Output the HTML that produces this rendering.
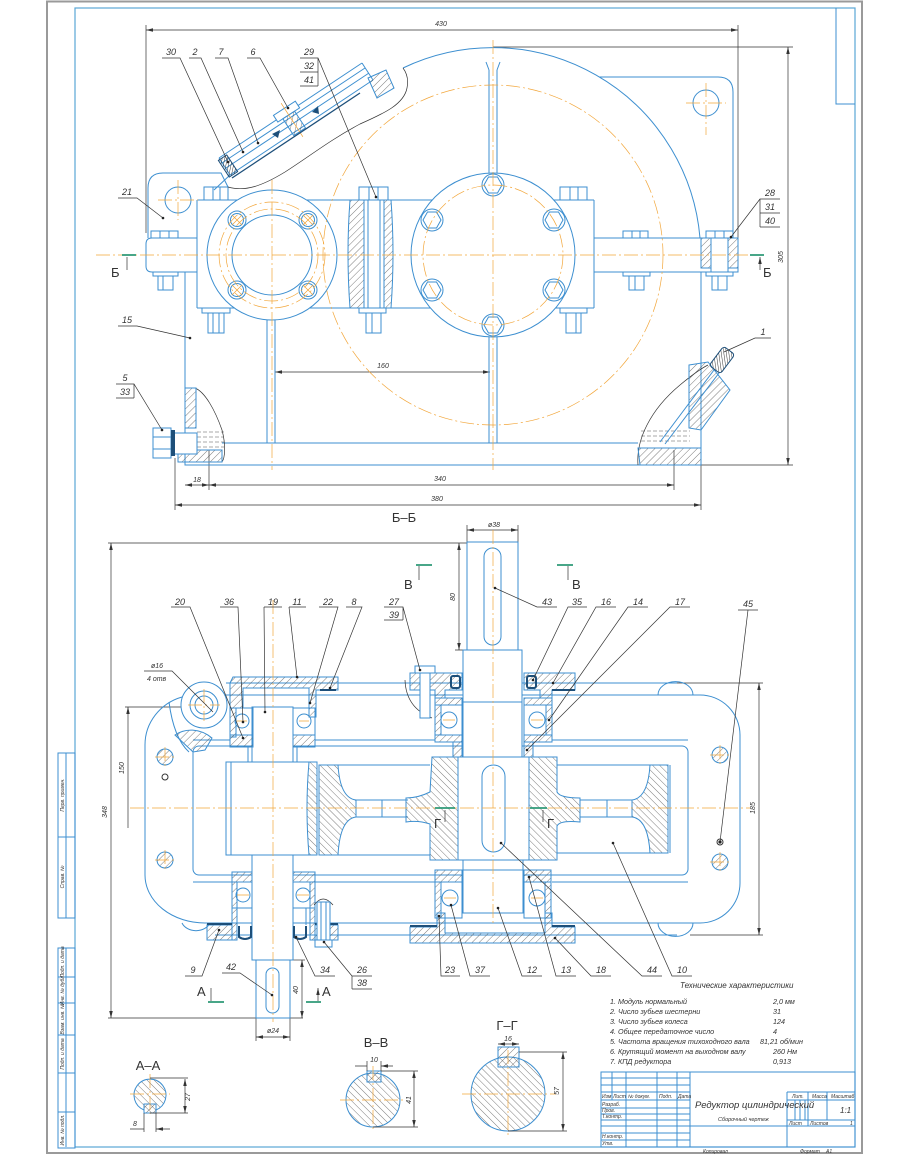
<!DOCTYPE html>
<html><head><meta charset="utf-8">
<style>
html,body{margin:0;padding:0;background:#fff}
svg{display:block}
.b{stroke:#3d8fd0;fill:none;stroke-width:1}
.bf{stroke:#3d8fd0;fill:#fff;stroke-width:1}
.k{stroke:#333;fill:none;stroke-width:.7}
.o{stroke:#f2a63a;fill:none;stroke-width:.7;stroke-dasharray:14 3 2 3}
.h{fill:url(#h1);stroke:#3d8fd0;stroke-width:1}
.h2{fill:url(#h2);stroke:#3d8fd0;stroke-width:1}
.g{stroke:#2f9a78;stroke-width:1.8;fill:none}
.sl{stroke:#1d4f7a;stroke-width:2;fill:none}
text{font-family:"Liberation Sans",sans-serif;font-style:italic;fill:#333}
.t{font-size:9px}
.s{font-size:7px}
.xs{font-size:5px}
.n{font-style:normal;font-size:13px}
</style></head><body>
<svg width="910" height="1155" viewBox="0 0 910 1155" xmlns="http://www.w3.org/2000/svg">
<defs>
<pattern id="h1" width="5" height="5" patternUnits="userSpaceOnUse" patternTransform="rotate(45)"><line x1="0" y1="0" x2="0" y2="5" stroke="#444" stroke-width=".7"/></pattern>
<pattern id="h2" width="5" height="5" patternUnits="userSpaceOnUse" patternTransform="rotate(-45)"><line x1="0" y1="0" x2="0" y2="5" stroke="#444" stroke-width=".7"/></pattern>
<pattern id="h3" width="2.5" height="2.5" patternUnits="userSpaceOnUse" patternTransform="rotate(45)"><line x1="0" y1="0" x2="0" y2="2.5" stroke="#222" stroke-width=".9"/></pattern>
<marker id="a" viewBox="0 0 10 10" refX="10" refY="5" markerWidth="7" markerHeight="7" markerUnits="userSpaceOnUse" orient="auto-start-reverse"><path d="M0,2.5L10,5L0,7.5z" fill="#333"/></marker>
</defs>

<!-- FRAME -->
<rect x="47" y="1.5" width="815" height="1151.5" fill="none" stroke="#9a9a9a" stroke-width="2"/>
<rect x="75" y="8" width="780" height="1139" fill="none" stroke="#5aa6d6" stroke-width="1.2"/>
<path d="M836,8V104H855" class="b"/>
<g class="b" stroke-width=".8">
<rect x="58" y="753" width="17" height="165"/>
<path d="M66,753V918M58,837H75"/>
<rect x="58" y="948" width="17" height="200"/>
<path d="M66,948V1147M58,977H75M58,1003H75M58,1035H75M58,1073H75M58,1112H75"/>
</g>
<g class="xs">
<text transform="translate(64,795) rotate(-90)" text-anchor="middle">Перв. примен.</text>
<text transform="translate(64,877) rotate(-90)" text-anchor="middle">Справ. №</text>
<text transform="translate(64,962) rotate(-90)" text-anchor="middle">Подп. и дата</text>
<text transform="translate(64,990) rotate(-90)" text-anchor="middle">Инв. № дубл.</text>
<text transform="translate(64,1019) rotate(-90)" text-anchor="middle">Взам. инв. №</text>
<text transform="translate(64,1054) rotate(-90)" text-anchor="middle">Подп. и дата</text>
<text transform="translate(64,1130) rotate(-90)" text-anchor="middle">Инв. № подл.</text>
</g>

<!-- ===== TOP VIEW ===== -->
<g class="k">
<path d="M146,25V233M738,25V238"/>
<path d="M146,30H738" marker-start="url(#a)" marker-end="url(#a)"/>
<path d="M493,47H793M701,465H793"/>
<path d="M788,47V465" marker-start="url(#a)" marker-end="url(#a)"/>
<path d="M275,372H490" marker-start="url(#a)" marker-end="url(#a)"/>
<path d="M175,458V510M701,465V510M209,450V490M674,450V490"/>
<path d="M185,485H209" marker-start="url(#a)" marker-end="url(#a)"/>
<path d="M209,485H674" marker-start="url(#a)" marker-end="url(#a)"/>
<path d="M175,505H701" marker-start="url(#a)" marker-end="url(#a)"/>
</g>
<g class="s">
<text x="441" y="26" text-anchor="middle">430</text>
<text x="383" y="368" text-anchor="middle">160</text>
<text x="197" y="482" text-anchor="middle">18</text>
<text x="440" y="481" text-anchor="middle">340</text>
<text x="437" y="501" text-anchor="middle">380</text>
<text transform="translate(783,257) rotate(-90)" text-anchor="middle">305</text>
</g>

<g class="b">
<path d="M403,68A208,208 0 0 1 700,238"/>
<path d="M599,77H718Q733,77 733,92V238"/>
<path d="M148,238V188Q148,173 163,173H221L228,187"/>
<path d="M197,200H594M197,308H594M197,200V308M594,200V308"/>
<path d="M197,238H152Q146,238 146,244V266Q146,272 152,272H197"/>
<path d="M594,238H738V272H594"/>
<path d="M185,272V465H701V272"/>
<path d="M222,443H638"/>
<path d="M267,320V443M275,320V443M489,337V443M497,337V443"/>
<path d="M489,70V173M497,70V173M486,62L489,70M500,62L497,70"/>
<circle cx="178" cy="200" r="13"/>
<circle cx="706" cy="103" r="13"/>
</g>
<!-- bosses -->
<circle cx="272" cy="255" r="65" class="bf"/>
<circle cx="272" cy="255" r="40" class="b"/>
<circle cx="493" cy="255" r="82" class="bf"/>
<g class="b">
<circle cx="237" cy="220" r="9"/><circle cx="237" cy="220" r="6.5"/>
<circle cx="308" cy="220" r="9"/><circle cx="308" cy="220" r="6.5"/>
<circle cx="237" cy="290" r="9"/><circle cx="237" cy="290" r="6.5"/>
<circle cx="308" cy="290" r="9"/><circle cx="308" cy="290" r="6.5"/>
<circle cx="493" cy="185" r="11"/><circle cx="493" cy="325" r="11"/>
<circle cx="432" cy="220" r="11"/><circle cx="554" cy="220" r="11"/>
<circle cx="432" cy="290" r="11"/><circle cx="554" cy="290" r="11"/>
<path d="M484,185l4.5,-8h9l4.5,8l-4.5,8h-9zM484,325l4.5,-8h9l4.5,8l-4.5,8h-9zM423,220l4.5,-8h9l4.5,8l-4.5,8h-9zM545,220l4.5,-8h9l4.5,8l-4.5,8h-9zM423,290l4.5,-8h9l4.5,8l-4.5,8h-9zM545,290l4.5,-8h9l4.5,8l-4.5,8h-9z"/>
</g>
<g stroke="#f0a030" stroke-width=".7">
<path d="M232,215l10,10M242,215l-10,10M303,215l10,10M313,215l-10,10M232,285l10,10M242,285l-10,10M303,285l10,10M313,285l-10,10"/>
</g>
<!-- section 29 -->
<path class="h" d="M350,200H364V308H350Q346,254 350,200Z"/>
<path class="h" d="M384,200H391Q395,254 391,308H384Z"/>
<rect class="bf" x="364" y="200" width="20" height="108"/>
<path class="b" d="M368,200V308M380,200V308"/>
<!-- section 28 -->
<rect class="h" x="701" y="238" width="37" height="30"/>
<rect class="bf" x="711" y="238" width="17" height="34"/>
<!-- bolt heads / nuts -->
<g class="bf">
<rect x="359" y="187" width="29" height="13"/><rect x="359" y="308" width="27" height="5"/><rect x="366" y="313" width="15" height="20"/>
<rect x="204" y="187" width="24" height="13"/><rect x="560" y="187" width="27" height="13"/>
<rect x="202" y="308" width="28" height="5"/><rect x="208" y="313" width="16" height="20"/>
<rect x="560" y="308" width="27" height="5"/><rect x="566" y="313" width="15" height="20"/>
<rect x="151" y="231" width="27" height="7"/><rect x="153" y="272" width="25" height="4"/><rect x="158" y="276" width="15" height="14"/>
<rect x="623" y="231" width="25" height="7"/><rect x="623" y="272" width="27" height="4"/><rect x="629" y="276" width="15" height="14"/>
<rect x="706" y="231" width="27" height="7"/><rect x="706" y="272" width="27" height="4"/><rect x="712" y="276" width="15" height="14"/>
</g>
<g class="b" stroke-width=".7">
<path d="M213,187V200M220,187V200M369,187V200M378,187V200M570,187V200M578,187V200M213,313V333M219,313V333M372,313V333M576,313V333M160,231V238M169,231V238M632,231V238M640,231V238M715,231V238M724,231V238M163,276V290M635,276V290M718,276V290"/>
</g>
<!-- inspection hatch -->
<path class="k" d="M228,187C245,192 262,186 285,172C310,156 330,140 360,124C385,113 404,104 407,88C409,78 406,72 403,68"/>
<g class="b">
<path d="M219,158L362,63M222,163L365,68M226,168L369,73M230,175L373,80M219,158L230,175M362,63L373,80"/>
<path d="M214,190L230,175"/>
</g>
<path class="h" d="M368,78L386,70L394,88L377,98Z"/>
<g transform="translate(292,120) rotate(-33)">
<rect x="-13" y="-14" width="26" height="8" class="bf"/>
<rect x="-7" y="-6" width="14" height="20" class="h"/>
<path d="M0,-20V20" stroke="#f0a030" stroke-width=".7"/>
</g>
<g transform="translate(228,166) rotate(-33)">
<rect x="-5" y="-10" width="10" height="20" fill="url(#h3)" stroke="#1d4f7a" stroke-width="1"/>
</g>
<path d="M272,134l8,-4l-2,8z M312,112l6,-6l1,8z" fill="#1d4f7a"/>
<path d="M232,178L360,93" stroke="#1d4f7a" stroke-width="1.3"/>
<!-- drain left -->
<path class="k" d="M195,388C205,392 215,410 222,430C226,445 225,458 222,462"/>
<path class="h" d="M185,388H196V428H185Z"/>
<path class="h" d="M178,450H222V462H178Z"/>
<g stroke="#555" stroke-width=".6" stroke-dasharray="4 2"><path d="M197,432H224M197,437H224M197,442H224M197,447H224"/></g>
<rect class="bf" x="153" y="428" width="18" height="30"/>
<rect class="bf" x="171" y="433" width="26" height="21"/>
<rect x="171" y="430" width="4" height="26" fill="#1d4f7a"/>
<path class="b" d="M153,437H171M153,449H171"/>
<!-- right oil gauge -->
<path class="k" d="M638,465C636,440 650,410 680,385C692,375 702,368 708,365"/>
<path class="h" d="M689,365L708,362L730,390L701,430L689,428Z"/>
<path class="h" d="M638,448H701V465H640Z"/>
<g stroke="#555" stroke-width=".6" stroke-dasharray="4 2"><path d="M641,431H690M641,436H690M641,441H690"/></g>
<path class="b" d="M660,442L714,370M665,444L719,373"/>
<g transform="translate(722,360) rotate(-53)"><rect x="-12" y="-7" width="24" height="14" rx="3" fill="url(#h3)" stroke="#1d4f7a"/></g>
<!-- top view center lines -->
<g class="o">
<path d="M96,255H762"/>
<path d="M272,180V470"/>
<path d="M493,40V470"/>
<path d="M158,200H198M178,180V220M686,103H726M706,83V135"/>
<circle cx="272" cy="255" r="46"/>
<circle cx="272" cy="255" r="53"/>
<circle cx="493" cy="255" r="70"/>
<circle cx="493" cy="255" r="170"/>
</g>
<!-- Б markers -->
<path class="g" d="M122,255H136M750,255H764"/>
<path class="k" d="M127,270V257M760,270V257" marker-end="url(#a)"/>
<text x="111" y="277" class="n">Б</text>
<text x="763" y="277" class="n">Б</text>
<!-- top view labels -->
<g class="t">
<text x="171" y="55" text-anchor="middle">30</text>
<text x="195" y="55" text-anchor="middle">2</text>
<text x="221" y="55" text-anchor="middle">7</text>
<text x="253" y="55" text-anchor="middle">6</text>
<text x="309" y="55" text-anchor="middle">29</text>
<text x="309" y="69" text-anchor="middle">32</text>
<text x="309" y="83" text-anchor="middle">41</text>
<text x="127" y="195" text-anchor="middle">21</text>
<text x="770" y="196" text-anchor="middle">28</text>
<text x="770" y="210" text-anchor="middle">31</text>
<text x="770" y="224" text-anchor="middle">40</text>
<text x="127" y="323" text-anchor="middle">15</text>
<text x="125" y="381" text-anchor="middle">5</text>
<text x="125" y="395" text-anchor="middle">33</text>
<text x="763" y="335" text-anchor="middle">1</text>
</g>
<g class="k">
<path d="M162,58H180L228,162M189,58H201L243,152M215,58H228L258,143M247,58H260L288,108"/>
<path d="M300,58H318L376,197M300,72H318M300,86H318M318,58V86"/>
<path d="M118,198H137L163,218"/>
<path d="M780,199H760L731,237M760,213H780M760,227H780M760,199V227"/>
<path d="M118,326H137L190,338"/>
<path d="M116,384H134L162,430M116,398H134M134,384V398"/>
<path d="M771,338H755L724,352"/>
</g>

<text x="404" y="522" class="n" text-anchor="middle">Б–Б</text>

<!-- ===== BOTTOM VIEW ===== -->
<!-- dims -->
<g class="k">
<path d="M467,525V542M518,525V542"/>
<path d="M467,530H518" marker-start="url(#a)" marker-end="url(#a)"/>
<path d="M108,543H467M108,1018H303M455,650H463"/>
<path d="M111,543V1018" marker-start="url(#a)" marker-end="url(#a)"/>
<path d="M459,543V650" marker-start="url(#a)" marker-end="url(#a)"/>
<path d="M125,707H204"/>
<path d="M128,707V828" marker-start="url(#a)"/>
<path d="M677,683H763M690,935H763"/>
<path d="M759,683V935" marker-start="url(#a)" marker-end="url(#a)"/>
<path d="M458,825H529" marker-start="url(#a)" marker-end="url(#a)"/>
<path d="M464,892H523" marker-start="url(#a)" marker-end="url(#a)"/>
<path d="M253,898H293" marker-start="url(#a)" marker-end="url(#a)"/>
<path d="M293,960H305"/>
<path d="M302,960V1018" marker-start="url(#a)" marker-end="url(#a)"/>
<path d="M256,1018V1041M290,1018V1041"/>
<path d="M256,1037H290" marker-start="url(#a)" marker-end="url(#a)"/>
</g>
<g class="s">
<text x="494" y="527" text-anchor="middle">ø38</text>
<text transform="translate(455,597) rotate(-90)" text-anchor="middle">80</text>
<text transform="translate(107,812) rotate(-90)" text-anchor="middle">348</text>
<text transform="translate(124,768) rotate(-90)" text-anchor="middle">150</text>
<text transform="translate(755,808) rotate(-90)" text-anchor="middle">185</text>
<text x="511" y="821" text-anchor="middle">ø53</text>
<text x="494" y="888" text-anchor="middle">ø45</text>
<text x="273" y="894" text-anchor="middle">ø30</text>
<text transform="translate(298,990) rotate(-90)" text-anchor="middle">40</text>
<text x="273" y="1033" text-anchor="middle">ø24</text>
</g>

<!-- housing outline -->
<g class="b">
<path d="M226,683H677M215,935H677"/>
<path d="M226,695H700A40,40 0 0 1 740,735V883A40,40 0 0 1 700,923H205A60,48 0 0 1 145,875V745A52,50 0 0 1 182,697"/>
<path d="M658,695A17,13 0 0 1 693,695M658,923A17,13 0 0 0 693,923M182,923A15,12 0 0 0 210,923"/>
<circle cx="204" cy="705" r="23" class="bf"/>
<circle cx="204" cy="705" r="14"/>
<circle cx="204" cy="705" r="9"/>
<path d="M169,702C172,725 178,742 189,752"/>
<rect x="193" y="746" width="495" height="129" rx="6"/>
<path d="M336,695H410M575,695H658M193,740H230M315,740H435M552,740H688"/>
<path d="M193,882H232M315,882H435M552,882H688"/>
</g>
<path class="h" d="M175,735C185,728 200,728 212,738L205,750L193,752Z"/>
<!-- bolt holes -->
<g class="h">
<circle cx="165" cy="757" r="8"/><circle cx="165" cy="860" r="8"/>
<circle cx="720" cy="755" r="8"/><circle cx="720" cy="862" r="8"/>
</g>
<circle cx="165" cy="777" r="3" fill="none" stroke="#333"/>
<circle cx="720" cy="842" r="3" fill="none" stroke="#333"/>

<!-- pinion top -->
<path class="h" d="M233,677H338V690H316V717H309V688H243V708H236V737H230V683Z"/>
<rect class="bf" x="252" y="707" width="41" height="55"/>
<path class="b" d="M248,747V762M297,747V762M248,747H252M293,747H297"/>
<rect class="b" x="230" y="708" width="23" height="39"/>
<rect class="b" x="293" y="708" width="22" height="39"/>
<rect class="h" x="230" y="735" width="23" height="12"/>
<rect class="h" x="293" y="735" width="22" height="12"/>
<circle class="b" cx="242" cy="721" r="7"/>
<circle class="b" cx="304" cy="721" r="7"/>
<!-- pinion gear -->
<rect class="bf" x="226" y="762" width="91" height="93"/>
<path class="h2" d="M309,762H317V855H309Q305,808 309,762Z"/>
<path class="b" d="M231,762V855"/>
<!-- wheel -->
<path class="h2" d="M319,765H338Q340,798 356,800V817Q340,819 338,855H319Z"/>
<path class="h2" d="M668,765H650Q648,798 632,800V817Q648,819 650,853H668Z"/>
<path class="b" d="M670,765V853M336,765H430M336,855H430M557,765H650M557,853H650M356,800H408M356,817H408M580,800H632M580,817H632M382,800V817M607,800V817"/>
<path class="h2" d="M432,757H458V860H430V824Q418,820 406,822V798Q418,798 430,792Z"/>
<path class="h2" d="M529,757H557V792Q560,798 580,798V822Q560,820 557,826V860H529Z"/>
<!-- wheel shaft -->
<rect class="bf" x="467" y="542" width="51" height="108"/>
<rect class="bf" x="463" y="650" width="59" height="107"/>
<rect class="bf" x="458" y="757" width="71" height="103"/>
<rect class="bf" x="463" y="860" width="60" height="53"/>
<path class="b" d="M463,702H522M458,870H529"/>
<rect class="b" x="484" y="548" width="17" height="97" rx="8.5"/>
<rect class="b" x="482" y="765" width="23" height="87" rx="11.5"/>
<!-- wheel top bearings & caps -->
<rect class="b" x="435" y="698" width="27" height="44"/>
<rect class="b" x="524" y="698" width="28" height="44"/>
<rect class="h" x="435" y="698" width="27" height="7"/>
<rect class="h" x="435" y="735" width="27" height="7"/>
<rect class="h" x="435" y="705" width="6" height="30"/>
<rect class="h" x="524" y="698" width="28" height="7"/>
<rect class="h" x="524" y="735" width="28" height="7"/>
<rect class="h" x="546" y="705" width="6" height="30"/>
<circle class="b" cx="449" cy="720" r="8"/>
<circle class="b" cx="537" cy="720" r="8"/>
<rect class="h" x="453" y="742" width="9" height="15"/>
<rect class="h" x="524" y="742" width="9" height="15"/>
<path class="h" d="M410,673H462V690H445V698H435V690H410Z"/>
<path class="h" d="M524,673H575V690H552V698H540V690H524Z"/>
<rect x="451" y="676" width="9" height="12" rx="2" fill="#fff" class="sl"/>
<rect x="527" y="676" width="9" height="12" rx="2" fill="#fff" class="sl"/>
<path class="sl" d="M575,690H552M336,690H320" stroke-width="1.5"/>
<path class="k" d="M405,680Q406,708 432,718"/>
<rect class="bf" x="420" y="673" width="10" height="45"/>
<rect class="bf" x="415" y="666" width="20" height="7"/>
<!-- wheel bottom bearings & cap -->
<rect class="b" x="435" y="870" width="27" height="48"/>
<rect class="b" x="524" y="870" width="27" height="48"/>
<rect class="h" x="435" y="870" width="27" height="12"/>
<rect class="h" x="524" y="870" width="27" height="12"/>
<rect class="h" x="435" y="882" width="6" height="36"/>
<rect class="h" x="545" y="882" width="6" height="36"/>
<circle class="b" cx="450" cy="898" r="8"/>
<circle class="b" cx="537" cy="898" r="8"/>
<path class="h" d="M410,927H437V913H445V933H545V913H552V927H575V943H410Z"/>
<path class="sl" d="M410,926H437M552,926H575" stroke-width="1.5"/>
<!-- pinion bottom -->
<rect class="bf" x="252" y="855" width="41" height="105"/>
<rect class="bf" x="256" y="960" width="34" height="58"/>
<rect class="b" x="266" y="968" width="13" height="45" rx="6.5"/>
<path class="b" d="M226,855H317"/>
<rect class="b" x="232" y="872" width="20" height="36"/>
<rect class="b" x="293" y="872" width="22" height="36"/>
<rect class="h" x="232" y="872" width="20" height="10"/>
<rect class="h" x="293" y="872" width="22" height="10"/>
<rect class="h" x="232" y="882" width="5" height="58"/>
<rect class="h" x="310" y="882" width="5" height="58"/>
<circle class="b" cx="243" cy="895" r="7"/>
<circle class="b" cx="303" cy="895" r="7"/>
<path class="b" d="M237,908V925M306,908V925"/>
<path class="h" d="M207,925H232V940H207Z"/>
<path class="h" d="M315,925H338V940H315Z"/>
<path class="sl" d="M239,926V937Q245,941 251,937V926M294,926V937Q300,941 306,937V926"/>
<path class="sl" d="M207,924H232M315,924H338" stroke-width="1.5"/>
<path class="k" d="M314,905Q323,893 333,905"/>
<rect class="bf" x="317" y="902" width="13" height="40"/>
<path class="b" d="M321,902V942M326,902V942"/>
<rect class="bf" x="315" y="940" width="17" height="7"/>
<!-- bottom view center lines -->
<g class="o">
<path d="M273,600V1022"/>
<path d="M493,530V925"/>
<path d="M130,808H750"/>
<path d="M188,705H220M204,689V721M155,757H175M165,747V767M155,860H175M165,850V870M710,755H730M720,745V765M710,862H730M720,852V872"/>
<path d="M237,721H247M299,721H309M443,720H455M531,720H543M444,898H456M531,898H543M237,895H249M297,895H309"/>
</g>
<!-- section markers -->
<path class="g" d="M416,565H432M557,565H573M208,1002H224M306,1002H321M435,808H455M530,808H547"/>
<path class="k" d="M419,566V580M568,566V580M445,810V822M543,810V822M211,1001V988M318,1001V988" marker-end="url(#a)"/>
<text x="404" y="589" class="n">В</text>
<text x="572" y="589" class="n">В</text>
<text x="197" y="996" class="n">А</text>
<text x="322" y="996" class="n">А</text>
<text x="434" y="828" class="n">Г</text>
<text x="547" y="828" class="n">Г</text>

<!-- bottom view labels -->
<g class="t">
<text x="180" y="605" text-anchor="middle">20</text>
<text x="229" y="605" text-anchor="middle">36</text>
<text x="273" y="605" text-anchor="middle">19</text>
<text x="297" y="605" text-anchor="middle">11</text>
<text x="328" y="605" text-anchor="middle">22</text>
<text x="354" y="605" text-anchor="middle">8</text>
<text x="394" y="605" text-anchor="middle">27</text>
<text x="394" y="618" text-anchor="middle">39</text>
<text x="547" y="605" text-anchor="middle">43</text>
<text x="577" y="605" text-anchor="middle">35</text>
<text x="606" y="605" text-anchor="middle">16</text>
<text x="638" y="605" text-anchor="middle">14</text>
<text x="680" y="605" text-anchor="middle">17</text>
<text x="748" y="607" text-anchor="middle">45</text>
<text x="193" y="973" text-anchor="middle">9</text>
<text x="231" y="970" text-anchor="middle">42</text>
<text x="325" y="973" text-anchor="middle">34</text>
<text x="362" y="973" text-anchor="middle">26</text>
<text x="362" y="986" text-anchor="middle">38</text>
<text x="450" y="973" text-anchor="middle">23</text>
<text x="480" y="973" text-anchor="middle">37</text>
<text x="532" y="973" text-anchor="middle">12</text>
<text x="566" y="973" text-anchor="middle">13</text>
<text x="601" y="973" text-anchor="middle">18</text>
<text x="652" y="973" text-anchor="middle">44</text>
<text x="682" y="973" text-anchor="middle">10</text>
</g>
<text x="151" y="668" class="s">ø16</text>
<text x="147" y="681" class="s">4 отв</text>
<g class="k">
<path d="M171,607H190L243,738M220,607H238L243,722M264,607H282M264,607L265,712M289,607H306M289,607L297,677M319,607H338L310,703M346,607H362L330,688"/>
<path d="M384,607H403L420,670M384,620H403M403,607V620"/>
<path d="M557,607H537L495,588M587,607H568L533,680M616,607H596L553,683M648,607H628L549,720M690,607H670L527,750M738,610H758M748,610L720,842"/>
<path d="M144,671H172L213,712"/>
<path d="M185,976H202L219,930M222,973H240L272,995M335,976H315L296,937M372,976H352L324,942M372,989H352M352,976V989"/>
<path d="M460,976H441L439,916M490,976H470L451,905M542,976H522L498,908M576,976H556L529,877M611,976H591L555,938M662,976H642L501,843M692,976H672L613,843"/>
</g>
<g fill="#222">
<circle cx="243" cy="738" r="1.3"/><circle cx="243" cy="722" r="1.3"/><circle cx="265" cy="712" r="1.3"/><circle cx="297" cy="677" r="1.3"/><circle cx="310" cy="703" r="1.3"/><circle cx="330" cy="688" r="1.3"/><circle cx="420" cy="670" r="1.3"/><circle cx="495" cy="588" r="1.3"/><circle cx="533" cy="680" r="1.3"/><circle cx="553" cy="683" r="1.3"/><circle cx="549" cy="720" r="1.3"/><circle cx="527" cy="750" r="1.3"/><circle cx="720" cy="842" r="1.6"/>
<circle cx="219" cy="930" r="1.3"/><circle cx="272" cy="995" r="1.3"/><circle cx="296" cy="937" r="1.3"/><circle cx="324" cy="942" r="1.3"/><circle cx="439" cy="916" r="1.3"/><circle cx="451" cy="905" r="1.3"/><circle cx="498" cy="908" r="1.3"/><circle cx="529" cy="877" r="1.3"/><circle cx="555" cy="938" r="1.3"/><circle cx="501" cy="843" r="1.3"/><circle cx="613" cy="843" r="1.3"/>
<circle cx="228" cy="162" r="1.3"/><circle cx="243" cy="152" r="1.3"/><circle cx="258" cy="143" r="1.3"/><circle cx="288" cy="108" r="1.3"/><circle cx="376" cy="197" r="1.3"/><circle cx="163" cy="218" r="1.3"/><circle cx="731" cy="237" r="1.3"/><circle cx="190" cy="338" r="1.3"/><circle cx="162" cy="430" r="1.3"/>
</g>

<!-- ===== SECTIONS ===== -->
<text x="148" y="1070" class="n" text-anchor="middle">А–А</text>
<path class="h2" d="M144,1110A16,16 0 1 1 156,1110V1113H144Z"/>
<rect class="h" x="144" y="1104" width="12" height="9"/>
<path class="o" d="M130,1094H170M150,1074V1114"/>
<g class="k">
<path d="M150,1078H188M150,1113H188M144,1113V1132M156,1113V1132"/>
<path d="M185,1079V1113" marker-start="url(#a)" marker-end="url(#a)"/>
<path d="M130,1129H144M170,1129H156" marker-end="url(#a)"/>
</g>
<text transform="translate(190,1097) rotate(-90)" class="s" text-anchor="middle">27</text>
<text x="133" y="1126" class="s">8</text>

<text x="376" y="1047" class="n" text-anchor="middle">В–В</text>
<circle class="h2" cx="373" cy="1100" r="27"/>
<rect class="h" x="367" y="1071" width="14" height="11" fill="url(#h3)"/>
<path class="o" d="M340,1100H406M373,1066V1132"/>
<g class="k">
<path d="M367,1061V1071M381,1061V1071M381,1071H418M373,1127H418"/>
<path d="M355,1066H367M393,1066H381" marker-end="url(#a)"/>
<path d="M414,1071V1127" marker-start="url(#a)" marker-end="url(#a)"/>
</g>
<text x="374" y="1062" class="s" text-anchor="middle">10</text>
<text transform="translate(411,1100) rotate(-90)" class="s" text-anchor="middle">41</text>

<text x="507" y="1030" class="n" text-anchor="middle">Г–Г</text>
<circle class="h2" cx="508" cy="1094" r="37"/>
<rect class="h" x="498" y="1047" width="21" height="20" fill="url(#h3)"/>
<path class="o" d="M462,1094H556M508,1050V1138"/>
<g class="k">
<path d="M498,1044H519" marker-start="url(#a)" marker-end="url(#a)"/>
<path d="M519,1052H567M508,1131H567"/>
<path d="M563,1052V1131" marker-start="url(#a)" marker-end="url(#a)"/>
</g>
<text x="508" y="1041" class="s" text-anchor="middle">16</text>
<text transform="translate(559,1091) rotate(-90)" class="s" text-anchor="middle">57</text>

<!-- ===== TECH SPECS ===== -->
<text x="680" y="988" style="font-size:8px">Технические характеристики</text>
<g style="font-size:7.2px">
<text x="610" y="1004">1. Модуль нормальный</text><text x="773" y="1004">2,0 мм</text>
<text x="610" y="1014">2. Число зубьев шестерни</text><text x="773" y="1014">31</text>
<text x="610" y="1024">3. Число зубьев колеса</text><text x="773" y="1024">124</text>
<text x="610" y="1034">4. Общее передаточное число</text><text x="773" y="1034">4</text>
<text x="610" y="1044">5. Частота вращения тихоходного вала</text><text x="760" y="1044">81,21 об/мин</text>
<text x="610" y="1054">6. Крутящий момент на выходном валу</text><text x="773" y="1054">260 Нм</text>
<text x="610" y="1064">7. КПД редуктора</text><text x="773" y="1064">0,913</text>
</g>

<!-- ===== TITLE BLOCK ===== -->
<g class="b" stroke-width=".9">
<rect x="601" y="1072" width="254" height="75"/>
<path d="M612,1072V1100M626,1072V1147M657,1072V1147M677,1072V1147M690,1072V1147"/>
<path d="M601,1078H690M601,1085H690M601,1092H690M601,1100H690M601,1108H690M601,1114H690M601,1120H690M601,1126H690M601,1133H690M601,1140H690"/>
<path d="M787,1092H855M787,1100H855M787,1120H855M690,1126H855M787,1092V1147M808,1092V1126M827,1092V1120"/>
<path d="M795,1100V1120M800,1100V1120M805,1100V1120"/>
</g>
<g class="xs">
<text x="602" y="1098">Изм</text><text x="613" y="1098">Лист</text><text x="628" y="1098">№ докум.</text><text x="659" y="1098">Подп.</text><text x="678" y="1098">Дата</text>
<text x="602" y="1106">Разраб.</text><text x="602" y="1112">Пров.</text><text x="602" y="1118">Т.контр.</text>
<text x="602" y="1138">Н.контр.</text><text x="602" y="1145">Утв.</text>
<text x="792" y="1098">Лит.</text><text x="812" y="1098">Масса</text><text x="831" y="1098">Масштаб</text>
<text x="789" y="1125">Лист</text><text x="810" y="1125">Листов</text><text x="850" y="1125">1</text>
<text x="703" y="1153">Копировал</text><text x="800" y="1153">Формат</text><text x="826" y="1153">A1</text>
</g>
<text x="695" y="1108" style="font-size:9.5px">Редуктор цилиндрический</text>
<text x="718" y="1121" style="font-size:5.5px">Сборочный чертеж</text>
<text x="840" y="1113" style="font-size:8px">1:1</text>
</svg>
</body></html>
